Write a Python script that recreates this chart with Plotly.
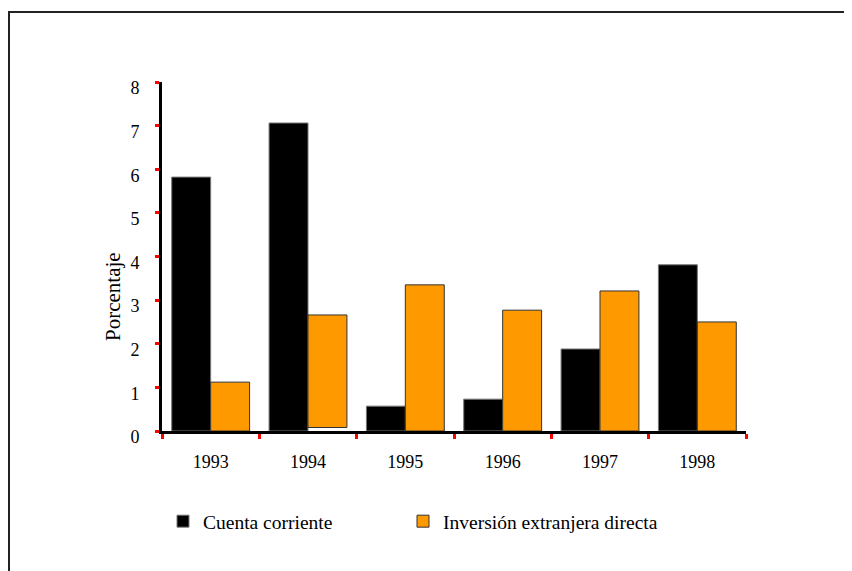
import plotly.graph_objects as go

years = ["1993", "1994", "1995", "1996", "1997", "1998"]
cuenta_corriente = [5.82, 7.06, 0.57, 0.73, 1.88, 3.81]
inversion_extranjera = [1.12, 2.58, 3.35, 2.77, 3.21, 2.50]
inversion_base = [0, 0.08, 0, 0, 0, 0]
y_ticks = [0, 1, 2, 3, 4, 5, 6, 7, 8]

FONT = "Liberation Serif"

W, H = 844, 563
L, T = 154, 74
PW, PH = 584, 349

fig = go.Figure()
fig.add_trace(go.Bar(
    x=years, y=cuenta_corriente, name="Cuenta corriente",
    marker=dict(color="#000000", line=dict(color="#777777", width=1)),
    legend="legend",
))
fig.add_trace(go.Bar(
    x=years, y=inversion_extranjera, base=inversion_base, name="Inversión extranjera directa",
    marker=dict(color="#FF9900", line=dict(color="#333333", width=1)),
    legend="legend2",
))

legend_common = dict(
    orientation="h", xref="container", yref="container",
    y=1 - 494 / H, xanchor="left", yanchor="top",
    font=dict(family=FONT, size=19.5, color="black"),
    itemwidth=30, bgcolor="rgba(0,0,0,0)",
)

fig.update_layout(
    width=W, height=H,
    margin=dict(l=L, r=W - L - PW, t=T, b=H - T - PH),
    paper_bgcolor="white", plot_bgcolor="white",
    font=dict(family=FONT, size=18, color="black"),
    barmode="group", bargap=0.2, bargroupgap=0,
    showlegend=True,
    legend=dict(x=155 / W, **legend_common),
    legend2=dict(x=395 / W, **legend_common),
    xaxis=dict(
        type="category", range=[-0.5, 5.5],
        showline=True, linecolor="black", linewidth=3,
        ticks="outside", tickson="boundaries", tickcolor="red",
        tickwidth=3, ticklen=5, ticklabelstandoff=12,
        showgrid=False, zeroline=False,
        tickfont=dict(family=FONT, size=18, color="black"),
    ),
    yaxis=dict(
        range=[0, 8], tickvals=y_ticks,
        showline=True, linecolor="black", linewidth=3,
        ticks="outside", tickcolor="red", tickwidth=3, ticklen=4,
        ticklabelstandoff=12, ticklabelshift=6,
        showgrid=False, zeroline=False,
        tickfont=dict(family=FONT, size=18, color="black"),
    ),
    annotations=[dict(
        text="Porcentaje", xref="paper", yref="paper",
        x=(99 - 162) / PW, y=(431 - 297) / PH,
        textangle=-90, showarrow=False,
        font=dict(family=FONT, size=21, color="black"),
    )],
    shapes=[dict(
        type="rect", xref="paper", yref="paper",
        x0=(9 - 162) / PW, x1=1.5, y0=-1.0, y1=1 + (82 - 12) / PH,
        line=dict(color="#222222", width=2), fillcolor="rgba(0,0,0,0)",
        layer="below",
    )],
)

fig.write_html("out.html")
